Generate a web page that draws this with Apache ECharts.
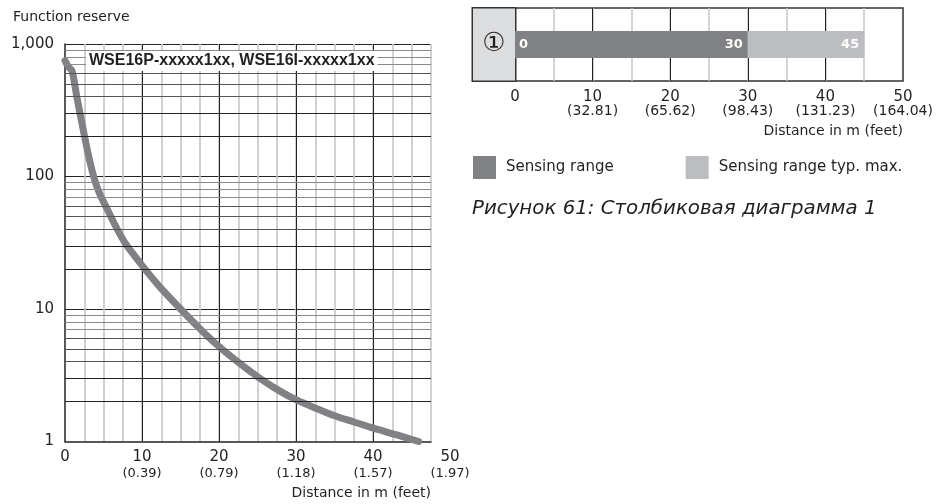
<!DOCTYPE html>
<html><head><meta charset="utf-8">
<script src="https://cdn.jsdelivr.net/npm/echarts@6.0.0/dist/echarts.min.js"></script>
<style>html,body{margin:0;padding:0;background:#fff}#c{width:941px;height:504px}</style>
</head><body><div id="c"></div>
<script>
// ---- Left chart data (function reserve curve) ----
const curveX = [0, 0.45, 0.9, 1.5, 2.4, 3.25, 3.9, 4.55, 5.4, 6.5, 7.8, 10.1, 12.3, 15, 17.5, 20, 22.7, 25.3, 27.9, 30.1, 32.7, 34.8, 37.4, 40, 43.1, 45.9];
const curveY = [750, 670, 630, 410, 220, 128, 92, 73, 58, 43, 31.5, 21, 14.7, 10, 7.1, 5.2, 3.88, 3.0, 2.4, 2.05, 1.77, 1.58, 1.41, 1.26, 1.12, 1.0];
const leftXTicks = [0, 10, 20, 30, 40, 50];
const leftXFeet = ['', '(0.39)', '(0.79)', '(1.18)', '(1.57)', '(1.97)'];
const yMinorLines = [2, 3, 4, 5, 6, 7, 8, 9, 20, 30, 40, 50, 60, 70, 80, 90, 200, 300, 400, 500, 600, 700, 800, 900];
const modelLabel = 'WSE16P-xxxxx1xx, WSE16I-xxxxx1xx';

// ---- Right chart data (sensing range bar) ----
const barCategories = ['①'];
const barStart = [0];
const sensingRange = [30];
const sensingRangeMax = [45];
const rightXTicks = [0, 10, 20, 30, 40, 50];
const rightXFeet = ['', '(32.81)', '(65.62)', '(98.43)', '(131.23)', '(164.04)'];

const FONT = 'DejaVu Sans';
const TXT = '#231f20';

function minorColor(v) {
  const d = Math.round(v / Math.pow(10, Math.floor(Math.log10(v) + 1e-9)));
  if (d === 2 || d === 3) return '#222';
  if (d >= 4 && d <= 6) return '#555';
  return '#8a8a8a';
}

function tickFmt(ticks, feet) {
  return function (v) {
    const i = ticks.indexOf(Math.round(v));
    const f = i >= 0 ? feet[i] : '';
    return f ? '{a|' + v + '}\n{b|' + f + '}' : '{a|' + v + '}';
  };
}

const chart = echarts.init(document.getElementById('c'), null, { renderer: 'canvas' });

const option = {
  animation: false,
  backgroundColor: '#fff',
  textStyle: { fontFamily: FONT, color: TXT },
  title: [
    { text: 'Function reserve', left: 13, top: 10, padding: 0,
      textStyle: { fontFamily: FONT, fontSize: 14, fontWeight: 'normal', color: TXT } },
    { text: modelLabel, left: 86, top: 51, padding: [2, 3, 2, 3], backgroundColor: '#fff',
      textStyle: { fontFamily: 'Liberation Sans', fontSize: 16, fontWeight: 'bold', color: TXT } },
    { text: 'Рисунок 61: Столбиковая диаграмма 1', left: 472, top: 199, padding: 0,
      textStyle: { fontFamily: FONT, fontSize: 19.8, fontStyle: 'italic', fontWeight: 'normal', color: TXT } }
  ],
  legend: {
    data: ['Sensing range', 'Sensing range typ. max.'],
    left: 473, top: 156, padding: 0,
    icon: 'rect', itemWidth: 23, itemHeight: 23, itemGap: 72,
    selectedMode: false,
    textStyle: { fontFamily: FONT, fontSize: 15, color: TXT, padding: [0, 0, 0, 5] }
  },
  grid: [
    { left: 65, top: 44, width: 366, height: 397.5, outerBoundsMode: 'none', containLabel: false },
    { left: 65, top: 44, width: 385, height: 397.5, outerBoundsMode: 'none', containLabel: false },
    { left: 515, top: 8, width: 388, height: 73, show: true, borderColor: '#333', borderWidth: 1.5,
      outerBoundsMode: 'none', containLabel: false }
  ],
  xAxis: [
    { // 0: grey minor verticals
      gridIndex: 0, type: 'value', position: 'bottom', min: 0, max: 47.5, interval: 2.5,
      axisLine: { show: false }, axisTick: { show: false }, axisLabel: { show: false },
      splitLine: { show: true, showMinLine: false, showMaxLine: true, lineStyle: { color: '#c6c6c6', width: 1.6 } }
    },
    { // 1: black major verticals + axis line + name
      gridIndex: 0, type: 'value', position: 'bottom', min: 0, max: 47.5, interval: 10,
      axisLine: { show: true, onZero: false, lineStyle: { color: '#222', width: 1.5 } },
      axisTick: { show: false }, axisLabel: { show: false },
      splitLine: { show: true, showMinLine: false, showMaxLine: false, lineStyle: { color: '#222', width: 1 } },
      name: 'Distance in m (feet)', nameLocation: 'end', nameGap: 0,
      nameTextStyle: { fontFamily: FONT, fontSize: 14, color: TXT, align: 'right', verticalAlign: 'top', padding: [45, 0, 0, 0] }
    },
    { // 2: left chart tick labels (0..50)
      gridIndex: 1, type: 'value', position: 'bottom', min: 0, max: 50, interval: 10,
      axisLine: { show: false }, axisTick: { show: false }, splitLine: { show: false },
      axisLabel: {
        show: true, margin: 7, formatter: tickFmt(leftXTicks, leftXFeet),
        rich: {
          a: { fontFamily: FONT, fontSize: 15, lineHeight: 17, color: TXT },
          b: { fontFamily: FONT, fontSize: 13, lineHeight: 16, color: TXT }
        }
      }
    },
    { // 3: right chart minor verticals
      gridIndex: 2, type: 'value', position: 'bottom', min: 0, max: 50, interval: 5,
      axisLine: { show: false }, axisTick: { show: false }, axisLabel: { show: false },
      splitLine: { show: true, showMinLine: false, showMaxLine: false, lineStyle: { color: '#c6c6c6', width: 1.5 } }
    },
    { // 4: right chart major verticals + labels
      gridIndex: 2, type: 'value', position: 'bottom', min: 0, max: 50, interval: 10,
      axisLine: { show: false }, axisTick: { show: false },
      splitLine: { show: true, showMinLine: false, showMaxLine: false, lineStyle: { color: '#222', width: 1 } },
      axisLabel: {
        show: true, margin: 9, formatter: tickFmt(rightXTicks, rightXFeet),
        rich: {
          a: { fontFamily: FONT, fontSize: 15, lineHeight: 14, color: TXT },
          b: { fontFamily: FONT, fontSize: 14, lineHeight: 15, color: TXT }
        }
      },
      name: 'Distance in m (feet)', nameLocation: 'end', nameGap: 0,
      nameTextStyle: { fontFamily: FONT, fontSize: 14, color: TXT, align: 'right', verticalAlign: 'top', padding: [43, 0, 0, 0] }
    }
  ],
  yAxis: [
    { // 0: log axis
      gridIndex: 0, type: 'log', logBase: 10, min: 1, max: 1000,
      axisLine: { show: true, lineStyle: { color: '#222', width: 1.5 } },
      axisTick: { show: false },
      axisLabel: { margin: 11, fontFamily: FONT, fontSize: 15, color: TXT,
        formatter: function (v) { return Number(v).toLocaleString('en-US'); } },
      splitLine: { show: true, showMinLine: false, lineStyle: { color: '#222', width: 1 } }
    },
    { gridIndex: 1, type: 'value', min: 0, max: 1, show: false },
    { // 2: bar category
      gridIndex: 2, type: 'category', data: barCategories,
      axisLine: { show: false }, axisTick: { show: false },
      axisLabel: {
        margin: 0, align: 'right',
        formatter: function (v) { return '{c|' + v + '}'; },
        rich: { c: { width: 42, height: 72, lineHeight: 72, align: 'center', verticalAlign: 'middle',
          backgroundColor: '#dcdddf', borderColor: '#333', borderWidth: 1.5,
          fontFamily: 'DejaVu Sans', fontSize: 26, color: TXT } }
      }
    }
  ],
  series: [
    { // horizontal minor grid lines of the log axis
      type: 'line', xAxisIndex: 1, yAxisIndex: 0, data: [], z: 1, silent: true,
      markLine: {
        silent: true, symbol: ['none', 'none'], label: { show: false },
        animation: false,
        data: yMinorLines.map(function (v) {
          return { yAxis: v, lineStyle: { color: minorColor(v), width: 1, type: 'solid' } };
        })
      }
    },
    {
      name: 'Function reserve', type: 'line', xAxisIndex: 1, yAxisIndex: 0, z: 4,
      data: curveX.map(function (x, i) { return [x, curveY[i]]; }),
      showSymbol: false, symbol: 'none', smooth: 0.3, clip: false,
      lineStyle: { color: '#808184', width: 7, cap: 'round', join: 'round' }
    },
    {
      name: 'start', type: 'bar', xAxisIndex: 4, yAxisIndex: 2, stack: 'r', barWidth: 27,
      data: barStart, itemStyle: { color: '#808184' },
      label: { show: true, position: 'right', distance: 4, formatter: function (p) { return String(p.value); },
        fontFamily: FONT, fontSize: 13, fontWeight: 'bold', color: '#fff' }
    },
    {
      name: 'Sensing range', type: 'bar', xAxisIndex: 4, yAxisIndex: 2, stack: 'r', barWidth: 27,
      data: sensingRange, itemStyle: { color: '#808184' },
      label: { show: true, position: 'insideRight', distance: 5,
        formatter: function (p) { return String(sensingRange[p.dataIndex]); },
        fontFamily: FONT, fontSize: 13, fontWeight: 'bold', color: '#fff' }
    },
    {
      name: 'Sensing range typ. max.', type: 'bar', xAxisIndex: 4, yAxisIndex: 2, stack: 'r', barWidth: 27,
      data: sensingRangeMax.map(function (v, i) { return v - sensingRange[i]; }),
      itemStyle: { color: '#bcbdc0' },
      label: { show: true, position: 'insideRight', distance: 5,
        formatter: function (p) { return String(sensingRangeMax[p.dataIndex]); },
        fontFamily: FONT, fontSize: 13, fontWeight: 'bold', color: '#fff' }
    }
  ]
};
chart.setOption(option);
</script></body></html>
